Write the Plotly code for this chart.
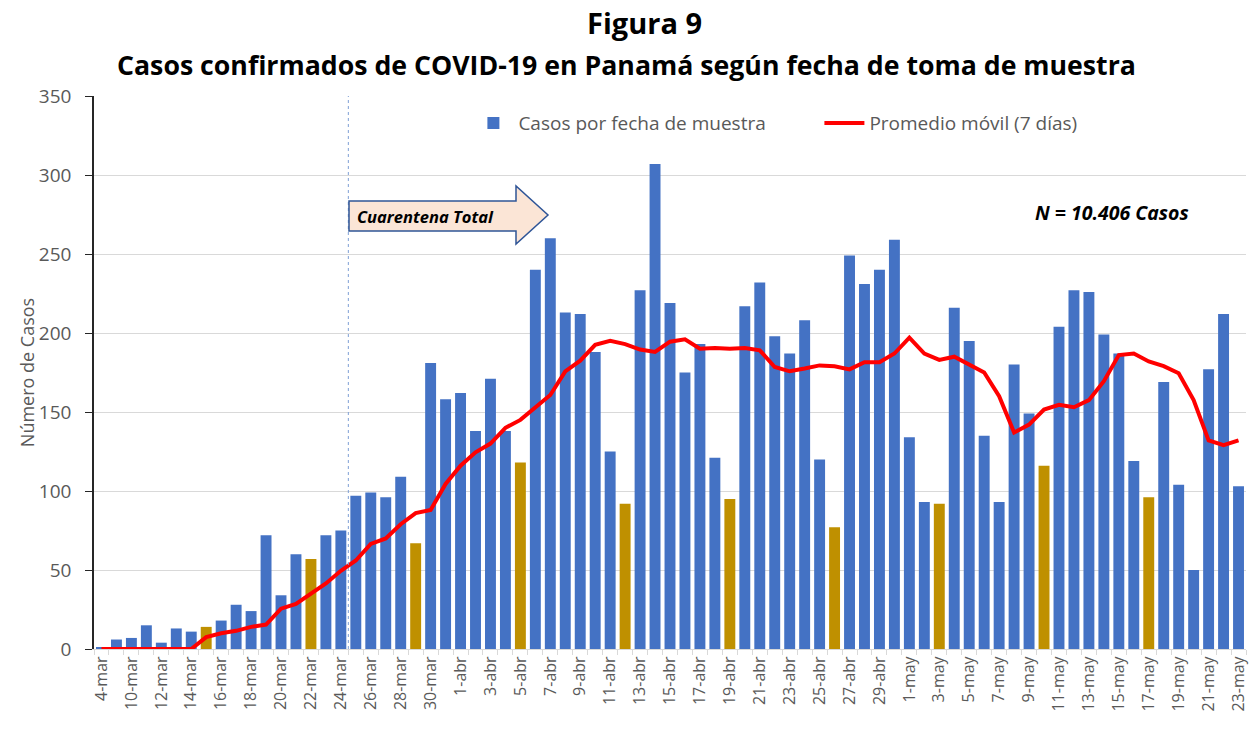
import plotly.graph_objects as go

fechas = (
    ["4-mar"] + [f"{d}-mar" for d in range(9, 32)]
    + [f"{d}-abr" for d in range(1, 31)]
    + [f"{d}-may" for d in range(1, 24)]
)

casos = [
    1, 6, 7, 15, 4, 13, 11, 14, 18, 28, 24, 72, 34, 60, 57, 72, 75, 97, 99, 96, 109, 67, 181, 158,
    162, 138, 171, 138, 118, 240, 260, 213, 212, 188, 125, 92, 227, 307, 219, 175, 193, 121, 95, 217,
    232, 198, 187, 208, 120, 77, 249, 231, 240, 259,
    134, 93, 92, 216, 195, 135, 93, 180, 149, 116, 204, 227, 226, 199, 187, 119, 96, 169, 104, 50,
    177, 212, 103,
]

promedio_movil = [
    0, 0, 0, 0, 0, 0, 0, 7.5, 10, 11.5, 14, 15.5, 25.5, 28.5, 35, 41.5, 49.5, 56, 66.5, 70, 79, 86, 88, 104.5,
    116, 124.5, 130, 140, 145, 152.5, 160.75, 175.75, 182.5, 192.5, 195, 193, 189.5, 188, 194.5, 196, 190, 190.5,
    190, 190.5, 189, 178.5, 175.75, 177.5, 179.5, 179, 177, 181.5, 181.5, 187,
    197, 187, 183, 185, 180, 175, 160, 137, 142, 151.5, 154.5, 153, 157.5, 169.5, 186, 187, 182, 179, 174.5,
    157.5, 132, 129, 132,
]

domingos = ["15-mar", "22-mar", "29-mar", "5-abr", "12-abr", "19-abr", "26-abr", "3-may", "10-may", "17-may"]

etiquetas_x = [f if i % 2 == 0 else "" for i, f in enumerate(fechas)]

AZUL = "#4472C4"
DORADO = "#BF9000"
ROJO = "#FF0000"
GRIS_TXT = "#595959"
GRID = "#D9D9D9"
FONT = "Open Sans"

colores = [DORADO if f in domingos else AZUL for f in fechas]

fig = go.Figure()
fig.add_trace(go.Bar(
    x=fechas, y=casos, name="Casos por fecha de muestra",
    marker=dict(color=colores, line=dict(width=0)),
))
fig.add_trace(go.Scatter(
    x=fechas, y=promedio_movil, name="Promedio móvil (7 días)",
    mode="lines", line=dict(color=ROJO, width=4),
))

fig.update_layout(
    width=1253, height=730,
    margin=dict(l=94, r=7, t=96, b=81, autoexpand=False),
    paper_bgcolor="white", plot_bgcolor="white",
    bargap=0.27,
    font=dict(family=FONT, color=GRIS_TXT),
    showlegend=True,
    legend=dict(
        orientation="h", x=0.325, y=0.951, xanchor="left", yanchor="middle",
        font=dict(size=19, color=GRIS_TXT, family=FONT), itemwidth=40,
        entrywidth=296,
        bgcolor="rgba(0,0,0,0)", traceorder="normal",
    ),
    xaxis=dict(
        type="category", tickmode="array", tickvals=fechas, ticktext=etiquetas_x,
        tickangle=-90, tickfont=dict(size=16, color=GRIS_TXT, family=FONT),
        ticks="outside", ticklen=5, tickcolor=GRID, tickson="boundaries",
        showline=True, linecolor=GRID, linewidth=1, showgrid=False,
        range=[-0.5, len(fechas) - 0.5], automargin=False,
    ),
    yaxis=dict(
        range=[0, 350], dtick=50, tick0=0,
        showgrid=True, gridcolor=GRID, gridwidth=1,
        showline=True, linecolor="#262626", linewidth=1.5,
        ticks="outside", ticklen=7, tickcolor="#262626",
        tickfont=dict(size=19, color=GRIS_TXT, family=FONT),
        ticklabelstandoff=10, automargin=False,
        title=dict(text="Número de Casos", font=dict(size=18, color=GRIS_TXT, family=FONT), standoff=0),
        zeroline=False,
    ),
)

# Title lines
fig.add_annotation(text="<b>Figura 9</b>", xref="paper", yref="paper",
                   x=(644 - 94) / 1152, y=(649 - 22) / 553, showarrow=False,
                   font=dict(size=29, color="black", family=FONT), xanchor="center", yanchor="middle")
fig.add_annotation(text="<b>Casos confirmados de COVID-19 en Panamá según fecha de toma de muestra</b>",
                   xref="paper", yref="paper",
                   x=(626.5 - 94) / 1152, y=(649 - 64) / 553, showarrow=False,
                   font=dict(size=26.7, color="black", family=FONT), xanchor="center", yanchor="middle")

# Quarantine start line (between 24-mar and 25-mar)
idx_cuarentena = fechas.index("24-mar") + 0.5
fig.add_shape(type="line", xref="x", yref="paper", x0=idx_cuarentena, x1=idx_cuarentena, y0=0, y1=1,
              line=dict(color="#7F9FD5", width=1, dash="3px,3px"))

# Arrow "Cuarentena Total"
def px(xp):
    return (xp - 94) / 1152

def py(yp):
    return (649 - yp) / 553

path = (f"M {px(349)},{py(231)} L {px(349)},{py(201)} L {px(516)},{py(201)} L {px(516)},{py(186)} "
        f"L {px(548)},{py(215)} L {px(516)},{py(244)} L {px(516)},{py(231)} Z")
fig.add_shape(type="path", xref="paper", yref="paper", path=path,
              fillcolor="#FBE5D6", line=dict(color="#2F5597", width=1.5))
fig.add_annotation(text="<b><i>Cuarentena Total</i></b>", xref="paper", yref="paper",
                   x=px(355), y=py(216), showarrow=False, xanchor="left", yanchor="middle",
                   font=dict(size=16.5, color="black", family=FONT))

fig.add_annotation(text="<b><i>N = 10.406 Casos</i></b>", xref="paper", yref="paper",
                   x=px(1112), y=py(212), showarrow=False, xanchor="center", yanchor="middle",
                   font=dict(size=19.5, color="black", family=FONT))

fig.write_html("out.html", config={"displayModeBar": False},
               post_script="document.body.style.margin='0';")
